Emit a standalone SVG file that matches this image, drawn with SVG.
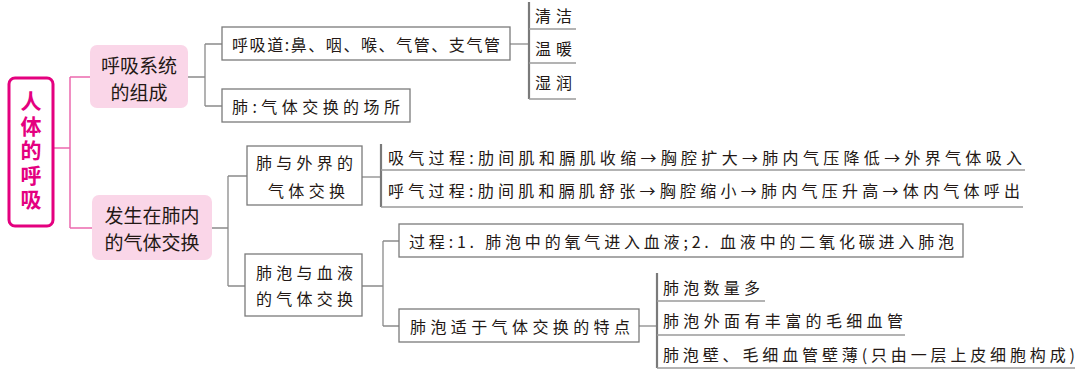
<svg xmlns="http://www.w3.org/2000/svg" width="1080" height="371" viewBox="0 0 1080 371">
<style>
text{font-family:"Noto Sans CJK SC","Noto Sans",sans-serif;fill:#231815;dominant-baseline:central}
.t{font-size:16px}
.h{font-size:19px;text-anchor:middle}
.root{font-size:21px;font-weight:bold;fill:#e4007f;writing-mode:vertical-rl}
.box{fill:#fff;stroke:#7a7a7a;stroke-width:1.3}
.pbox{fill:#fad6e8}
.pl{stroke:#ec6aae;stroke-width:1.5;fill:none}
.gl{stroke:#8a8a8a;stroke-width:1.3;fill:none}
.br{stroke:#7a7a7a;stroke-width:2.2;fill:none}
.sep{stroke:#9a9a9a;stroke-width:1.5;fill:none}
</style>
<rect width="1080" height="371" fill="#fff"/>
<g id="connectors">
<path class="pl" d="M53,148H70M70,77V228M70,77H90M70,228H92"/>
<path class="gl" d="M188,77H205M205,44V106M205,44H222M205,106H222"/>
<path class="gl" d="M510,44H529"/>
<path class="br" d="M529,2V99"/>
<path class="sep" d="M529,29H576M529,63H576M529,99H576"/>
<path class="gl" d="M212,228H228M228,176V286M228,176H247M228,286H245"/>
<path class="gl" d="M362,177H381"/>
<path class="br" d="M381,144V207"/>
<path class="sep" d="M381,170H1025M381,207H1023"/>
<path class="gl" d="M362,286H383M383,241V326M383,241H399M383,326H399"/>
<path class="gl" d="M639,326H657"/>
<path class="br" d="M657,273V368"/>
<path class="sep" d="M657,301H765M657,335H905M657,368H1075"/>
</g>
<g id="root">
<rect x="9" y="78" width="44" height="148" rx="6" fill="#fff" stroke="#e4007f" stroke-width="3"/>
<text class="root" x="31" y="91" textLength="119" lengthAdjust="spacing">人体的呼吸</text>
</g>
<g id="n-composition">
<rect class="pbox" x="90" y="45" width="98" height="63" rx="7"/>
<text class="h" x="139" y="64">呼吸系统</text>
<text class="h" x="139" y="91">的组成</text>
</g>
<g id="n-exchange">
<rect class="pbox" x="92" y="195" width="120" height="65" rx="7"/>
<text class="h" x="152" y="214">发生在肺内</text>
<text class="h" x="152" y="241">的气体交换</text>
</g>
<g id="n-airway">
<rect class="box" x="222" y="27" width="288" height="33"/>
<text class="t" x="232" y="44" textLength="268" lengthAdjust="spacing">呼吸道:鼻、咽、喉、气管、支气管</text>
</g>
<g id="n-lung">
<rect class="box" x="222" y="89" width="188" height="33"/>
<text class="t" x="232" y="106" textLength="168" lengthAdjust="spacing">肺:气体交换的场所</text>
</g>
<g id="n-clean"><text class="t" x="535" y="15" textLength="37" lengthAdjust="spacing">清洁</text></g>
<g id="n-warm"><text class="t" x="535" y="48" textLength="37" lengthAdjust="spacing">温暖</text></g>
<g id="n-moist"><text class="t" x="535" y="82" textLength="37" lengthAdjust="spacing">湿润</text></g>
<g id="n-outside">
<rect class="box" x="247" y="146" width="115" height="59"/>
<text class="t" x="256" y="162" textLength="97" lengthAdjust="spacing">肺与外界的</text>
<text class="t" x="268" y="190" textLength="77" lengthAdjust="spacing">气体交换</text>
</g>
<g id="n-blood">
<rect class="box" x="245" y="254" width="117" height="62"/>
<text class="t" x="256" y="272" textLength="97" lengthAdjust="spacing">肺泡与血液</text>
<text class="t" x="256" y="298" textLength="97" lengthAdjust="spacing">的气体交换</text>
</g>
<g id="n-inhale"><text class="t" x="388" y="157" textLength="634" lengthAdjust="spacing">吸气过程:肋间肌和膈肌收缩→胸腔扩大→肺内气压降低→外界气体吸入</text></g>
<g id="n-exhale"><text class="t" x="388" y="190" textLength="632" lengthAdjust="spacing">呼气过程:肋间肌和膈肌舒张→胸腔缩小→肺内气压升高→体内气体呼出</text></g>
<g id="n-process">
<rect class="box" x="399" y="224" width="564" height="33"/>
<text class="t" x="409" y="241" textLength="545" lengthAdjust="spacing">过程:1. 肺泡中的氧气进入血液;2. 血液中的二氧化碳进入肺泡</text>
</g>
<g id="n-features">
<rect class="box" x="399" y="309" width="240" height="33"/>
<text class="t" x="410" y="326" textLength="220" lengthAdjust="spacing">肺泡适于气体交换的特点</text>
</g>
<g id="n-f1"><text class="t" x="663" y="287" textLength="97" lengthAdjust="spacing">肺泡数量多</text></g>
<g id="n-f2"><text class="t" x="663" y="320" textLength="240" lengthAdjust="spacing">肺泡外面有丰富的毛细血管</text></g>
<g id="n-f3"><text class="t" x="663" y="354" textLength="412" lengthAdjust="spacing">肺泡壁、毛细血管壁薄(只由一层上皮细胞构成)</text></g>
</svg>
